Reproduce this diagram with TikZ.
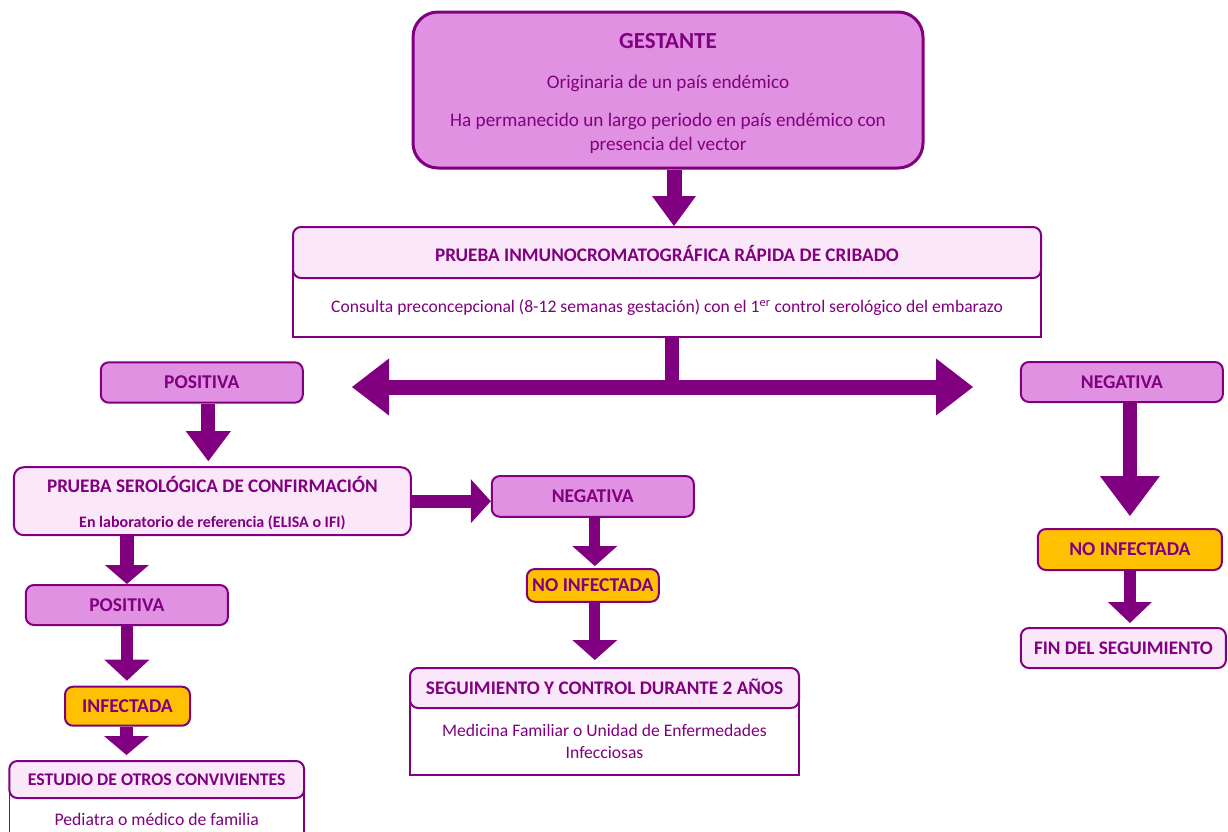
\documentclass[tikz,border=0pt]{standalone}
\usepackage{fontspec}
\setmainfont{Carlito}
\usetikzlibrary{arrows.meta}
\definecolor{pur}{HTML}{800080}
\definecolor{orchidf}{HTML}{E191E1}
\definecolor{pinkf}{HTML}{FAE8FA}
\definecolor{orangef}{HTML}{FFC000}
\tikzset{
  box/.style={draw=pur, line width=2pt, rounded corners=8pt, inner sep=0pt},
  midbox/.style={box, fill=orchidf},
  orbox/.style={box, fill=orangef},
  hdbox/.style={box, fill=pinkf},
  bodyrect/.style={draw=pur, line width=1.4pt, fill=white, inner sep=0pt},
  bt/.style={text=pur, inner sep=0pt, font=\bfseries\fontsize{#1}{#1}\selectfont, text height={0.644*#1pt}, text depth=0pt},
  rt/.style={text=pur, inner sep=0pt, font=\fontsize{#1}{#1}\selectfont, text height={0.644*#1pt}, text depth=0pt},
  arr/.style n args={3}{draw=pur, line width=#1, -{Triangle[width=#2, length=#3, line width=0pt]}},
}
\begin{document}
\begin{tikzpicture}[x=1pt,y=-1pt]
\useasboundingbox (0,0) rectangle (1228,831);

% top box
\node[midbox, line width=3pt, rounded corners=25pt, minimum width=510pt, minimum height=156pt] (gest) at (668,90) {};
\node[bt=23] (gestT) at (668,41) {GESTANTE};
\node[rt=19.2] (gestA) at (668,82) {Originaria de un país endémico};
\node[rt=19.2] (gestB) at (668,120.5) {Ha permanecido un largo periodo en país endémico con};
\node[rt=19.2] (gestC) at (668,144.5) {presencia del vector};

% screening test
\node[bodyrect, minimum width=748pt, minimum height=85pt] (cribB) at (667,294.5) {};
\node[hdbox, minimum width=748pt, minimum height=51pt] (crib) at (667,252.5) {};
\node[bt=19.2] (cribH) at (667,255.5) {PRUEBA INMUNOCROMATOGRÁFICA RÁPIDA DE CRIBADO};
\node[rt=17.6] (cribT) at (667,307) {Consulta preconcepcional (8-12 semanas gestación) con el 1\textsuperscript{er} control serológico del embarazo};

\draw[arr={15pt}{44pt}{30pt}] ([xshift=6pt]gest.south) -- ([xshift=6pt]gest.south |- crib.north);

% split arrow
\coordinate (dl) at (352,387);
\coordinate (dr) at (973,387);
\coordinate (dc) at (672,390);
\draw[draw=pur, line width=14pt] (cribB.south -| dc) -- (dc);
\draw[draw=pur, line width=15pt, {Triangle[width=57pt, length=37pt, line width=0pt]}-{Triangle[width=57pt, length=37pt, line width=0pt]}] (dl) -- (dr);

% left branch
\node[midbox, minimum width=202pt, minimum height=40.4pt, bt=19.5] (pos1) at (201.8,382.5) {POSITIVA};
\node[hdbox, rounded corners=10pt, minimum width=397pt, minimum height=68pt] (serol) at (212.4,501.2) {};
\node[bt=19.2] (serolA) at (212.4,486.7) {PRUEBA SEROLÓGICA DE CONFIRMACIÓN};
\node[bt=16] (serolB) at (212.4,522.5) {En laboratorio de referencia (ELISA o IFI)};
\draw[arr={14pt}{45pt}{30pt}, shorten >=5pt] ([xshift=6.5pt]pos1.south) -- ([xshift=6.5pt]pos1.south |- serol.north);

\node[midbox, minimum width=202pt, minimum height=40.7pt, bt=19.5] (neg2) at (592.8,496.4) {NEGATIVA};
\draw[arr={13pt}{44pt}{20pt}] (serol.east) -- (serol.east -| neg2.west);
\node[orbox, minimum width=132pt, minimum height=32.7pt, bt=19.6] (noinf2) at (592.8,585.4) {NO INFECTADA};
\draw[arr={11pt}{45pt}{20pt}, shorten >=2pt] ([xshift=2pt]neg2.south) -- ([xshift=2pt]neg2.south |- noinf2.north);
\node[bodyrect, minimum width=389pt, minimum height=87pt] (segB) at (604.5,731.5) {};
\node[hdbox, minimum width=389pt, minimum height=40pt, bt=19.2] (seg) at (604.5,688) {SEGUIMIENTO Y CONTROL DURANTE 2 AÑOS};
\node[rt=17.6] (segT1) at (604.5,730.5) {Medicina Familiar o Unidad de Enfermedades};
\node[rt=17.6] (segT2) at (604.5,753) {Infecciosas};
\draw[arr={11pt}{45pt}{20pt}, shorten >=7pt] ([xshift=2pt]noinf2.south) -- ([xshift=2pt]noinf2.south |- seg.north);

\node[midbox, minimum width=202pt, minimum height=40pt, bt=19.5] (pos2) at (126.9,605) {POSITIVA};
\draw[arr={14pt}{44pt}{19pt}] (pos2.north |- serol.south) -- (pos2.north);
\node[orbox, minimum width=125pt, minimum height=39pt, bt=19.6] (inf) at (127.5,706.2) {INFECTADA};
\draw[arr={12pt}{45pt}{21pt}, shorten >=5pt] (pos2.south) -- (pos2.south |- inf.north);
\node[bodyrect, minimum width=294.7pt, minimum height=60pt] (estB) at (156.7,810) {};
\node[hdbox, minimum width=294.7pt, minimum height=37pt, bt=17.8] (est) at (156.7,779.5) {ESTUDIO DE OTROS CONVIVIENTES};
\node[rt=17.7] (estT) at (156.7,820) {Pediatra o médico de familia};
\draw[arr={13pt}{45pt}{19pt}, shorten >=5pt] ([xshift=-1pt]inf.south) -- ([xshift=-1pt]inf.south |- est.north);

% right branch
\node[midbox, minimum width=202pt, minimum height=40pt, bt=19.5] (neg3) at (1121.9,382) {NEGATIVA};
\node[orbox, minimum width=184pt, minimum height=41pt, bt=19.6] (noinf3) at (1129.9,549.5) {NO INFECTADA};
\draw[arr={14pt}{60pt}{40pt}, shorten >=12pt] (noinf3.north |- neg3.south) -- (noinf3.north);
\node[hdbox, minimum width=205pt, minimum height=40pt, bt=19.2] (fin) at (1123.4,648) {FIN DEL SEGUIMIENTO};
\draw[arr={12pt}{44pt}{21pt}, shorten >=4pt] (noinf3.south) -- (noinf3.south |- fin.north);
\end{tikzpicture}
\end{document}
